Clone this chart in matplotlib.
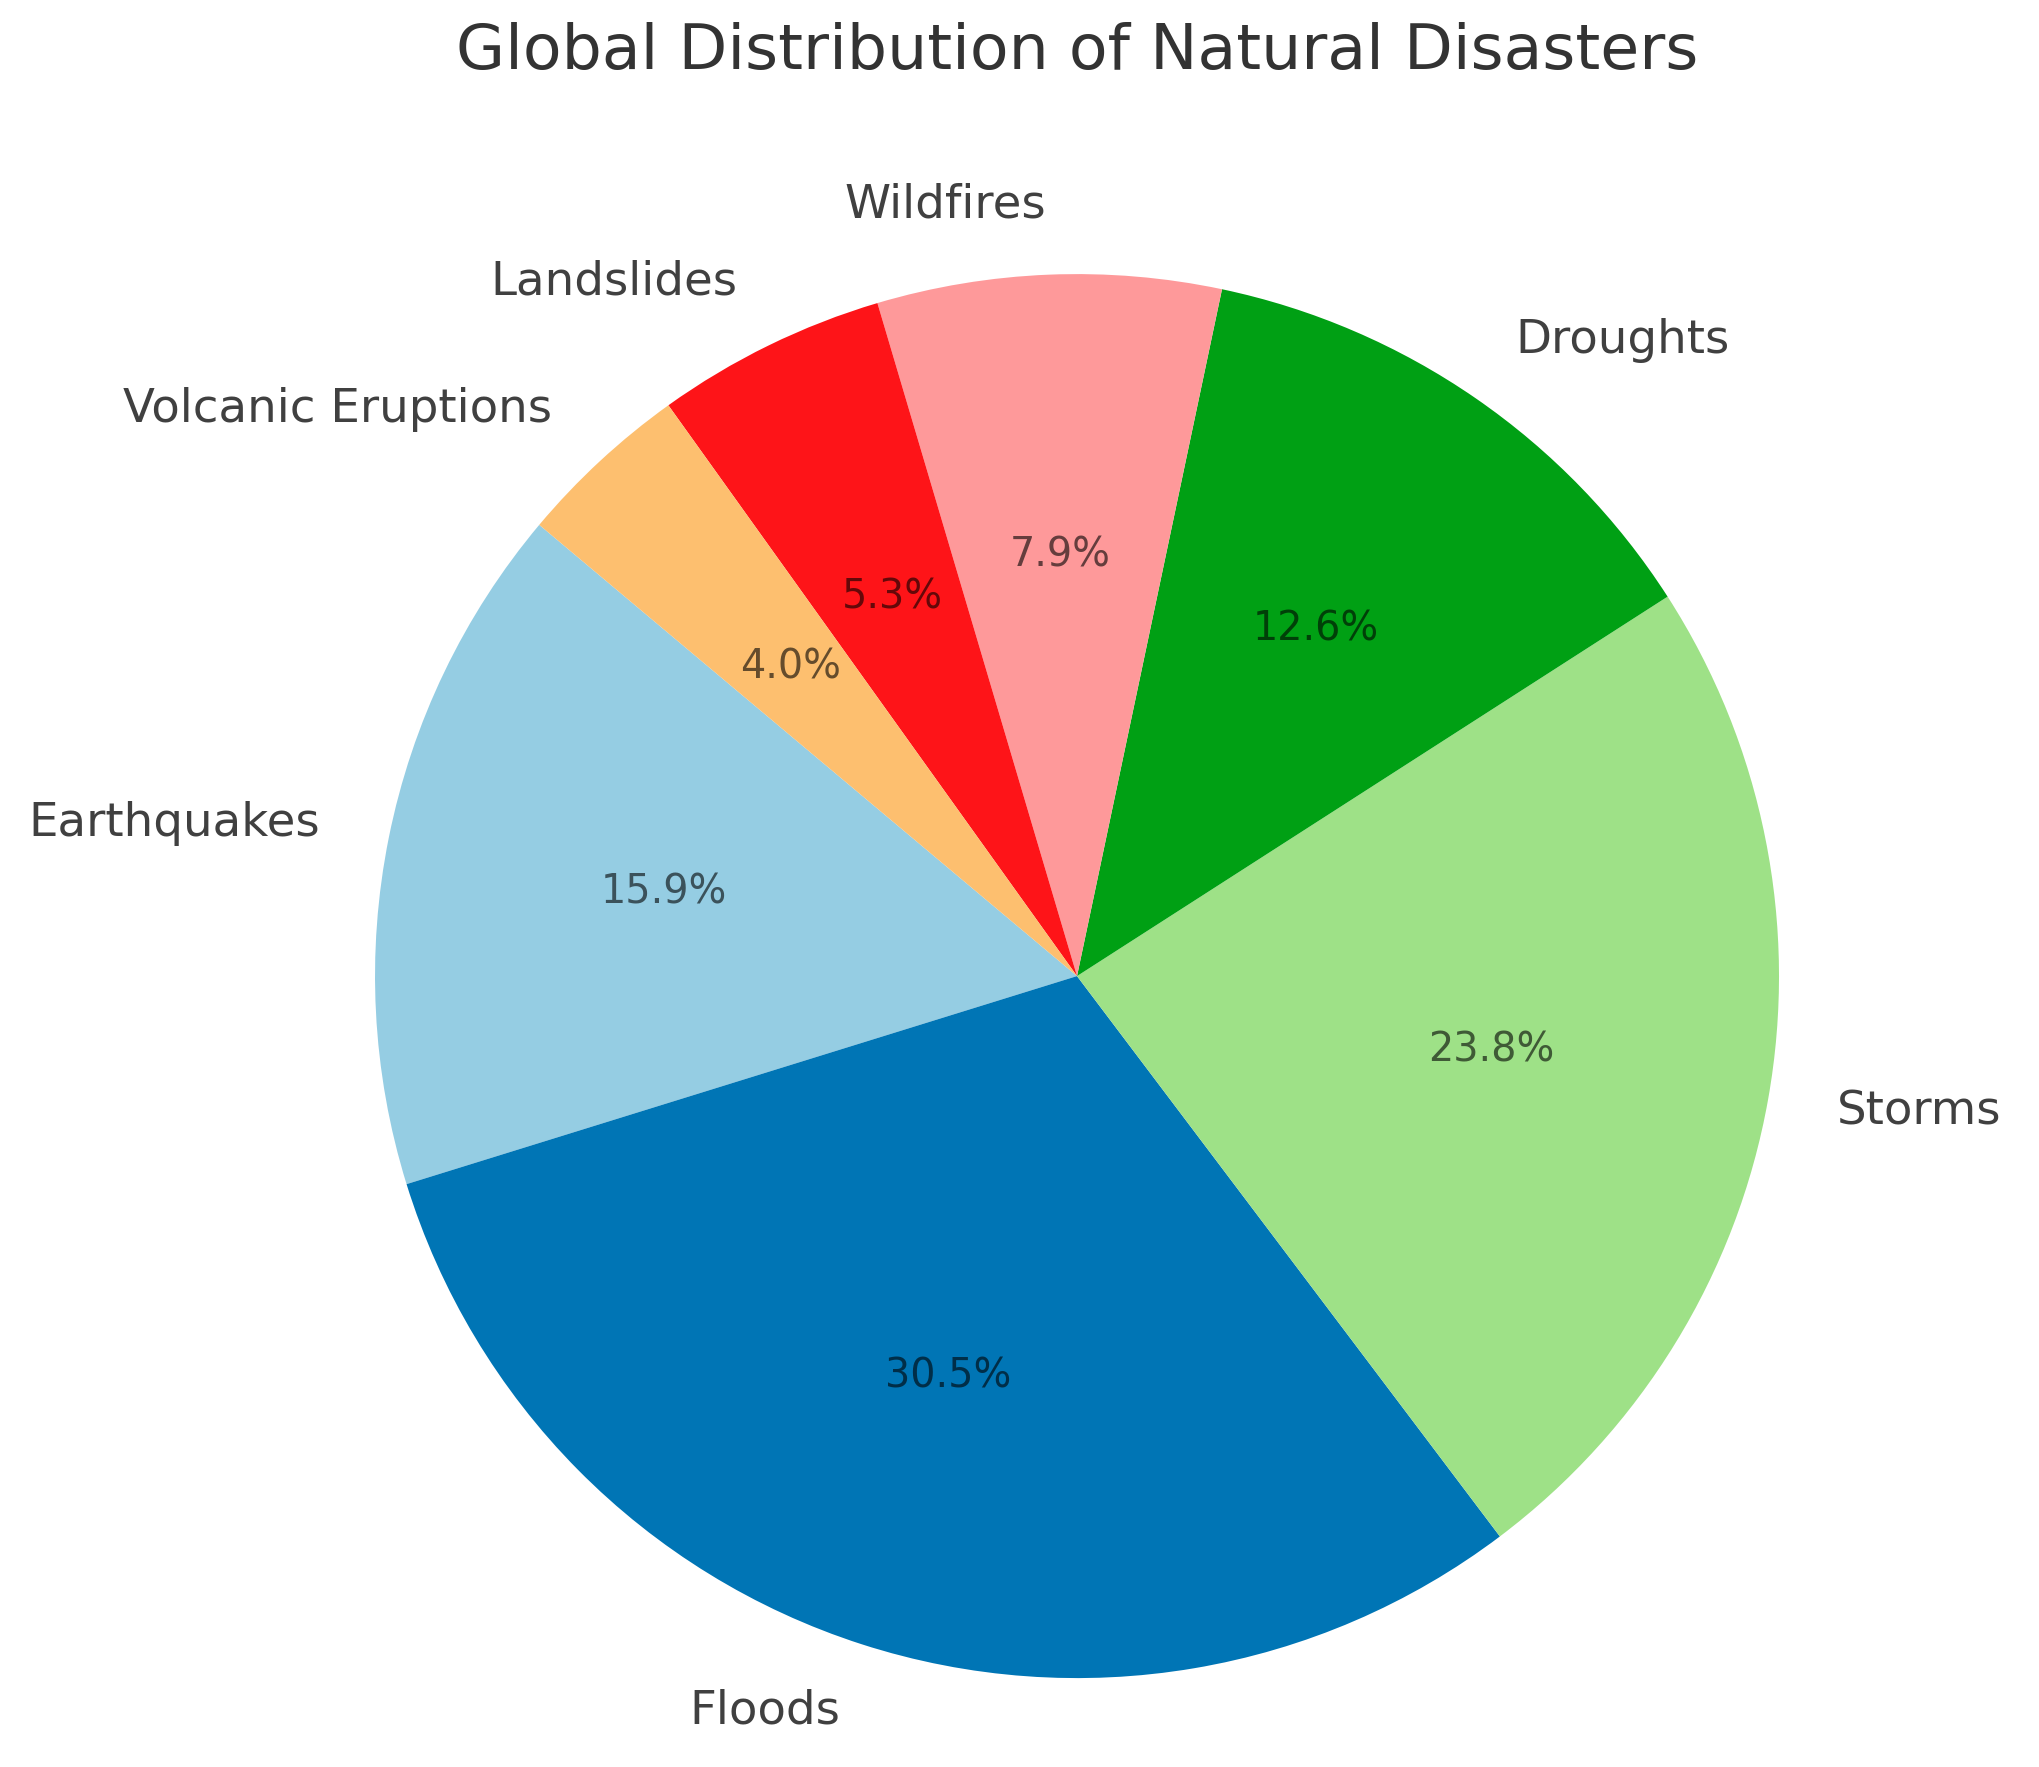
import matplotlib
matplotlib.use("Agg")
import matplotlib.pyplot as plt

# data
labels = ['Earthquakes', 'Floods', 'Storms', 'Droughts', 'Wildfires',
          'Landslides', 'Volcanic Eruptions']
shares = [15.9, 30.5, 23.8, 12.6, 7.9, 5.3, 4.0]
colors = ['#95cde3', '#0075b5', '#9ee187', '#00a014', '#fe999a',
          '#fe1418', '#fdbf6f']

fig = plt.figure(figsize=(10.2, 8.835), dpi=200)

# square axes so the pie lands where it sits in the reference
ax = fig.add_axes([0.0978, -0.049, 0.8603, 0.9932])

wedges, texts, autotexts = ax.pie(shares, labels=labels, colors=colors,
                                  autopct='%1.1f%%', startangle=140,
                                  textprops={'fontsize': 16.8, 'color': '#404040'})
for t in autotexts:
    t.set_fontsize(14.3)
    t.set_color('black')
    t.set_alpha(0.6)

ax.set_xlim(-1.25, 1.25)
ax.set_ylim(-1.25, 1.25)
ax.set_aspect('equal')

fig.text(1077 / 2040, 1 - 52 / 1767, 'Global Distribution of Natural Disasters',
         ha='center', va='center', fontsize=22.8, color='#333333')

fig.savefig('out.png', dpi=200, facecolor='white')
